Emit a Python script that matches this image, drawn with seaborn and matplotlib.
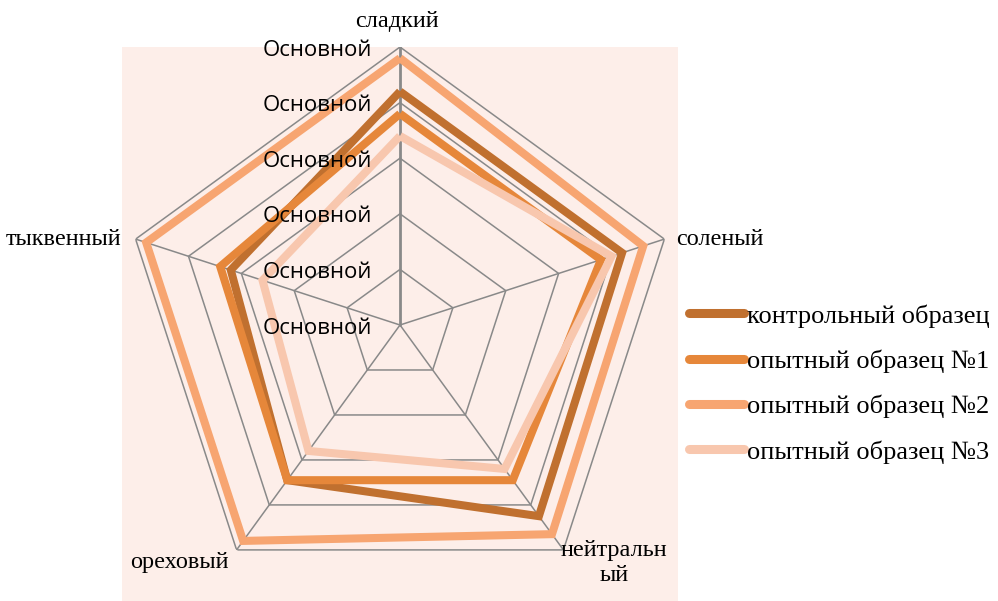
import numpy as np
import pandas as pd
import matplotlib
matplotlib.use('Agg')
import matplotlib.pyplot as plt
import seaborn as sns

# Данные диаграммы
categories = ['сладкий', 'соленый', 'нейтральн\nый', 'ореховый', 'тыквенный']
series_names = ['контрольный образец', 'опытный образец №1',
                'опытный образец №2', 'опытный образец №3']
control = [4.2, 4.2, 4.25, 3.45, 3.2]
sample1 = [3.8, 3.8, 3.45, 3.45, 3.4]
sample2 = [4.8, 4.6, 4.65, 4.8, 4.8]
sample3 = [3.4, 4.0, 3.2, 2.8, 2.6]
ring_levels = [0, 1, 2, 3, 4, 5]
ring_labels = ['Основной'] * 6
colors = ['#C0702F', '#E6873A', '#F7A571', '#F8C7AE']

sns.set_theme(style='white')
plt.rcParams['font.family'] = ['Liberation Serif', 'DejaVu Serif']
plt.rcParams['text.color'] = 'black'

n = len(categories)
angles = np.linspace(0, 2 * np.pi, n, endpoint=False)
closed = np.append(angles, angles[0] + 2 * np.pi)

# Таблица для seaborn
rows = []
for name, vals in zip(series_names, [control, sample1, sample2, sample3]):
    for i, t in enumerate(closed):
        rows.append({'theta': t, 'r': vals[i % n], 'series': name, 'order': i})
df = pd.DataFrame(rows)

fig = plt.figure(figsize=(9.98, 6.01), dpi=100)
W, H = 998, 601
cx, cy, R = 400, 325, 278

# фон области построения
fig.patches.append(plt.Rectangle(((cx - R) / W, 0), 2 * R / W, (H - (cy - R)) / H,
                                 transform=fig.transFigure, facecolor='#FDEEE9',
                                 edgecolor='none', zorder=-5))

ax = fig.add_axes([(cx - R) / W, (H - cy - R) / H, 2 * R / W, 2 * R / H],
                  projection='polar')
ax.set_facecolor('none')
ax.set_theta_offset(np.pi / 2)
ax.set_theta_direction(-1)
ax.set_ylim(0, 5)
ax.grid(False)
ax.spines['polar'].set_visible(False)
ax.set_xticks([])
ax.set_yticks([])

# многоугольная сетка
for lvl in ring_levels[1:]:
    ax.plot(closed, [lvl] * len(closed), color='#898989', lw=1.1, zorder=1)
for i, t in enumerate(angles):
    ax.plot([t, t], [0, 5], color='#898989', lw=2.0 if i == 0 else 1.1, zorder=1)

sns.lineplot(data=df, x='theta', y='r', hue='series', palette=colors,
             sort=False, estimator=None, units='series', ax=ax, lw=5.8,
             legend=False, zorder=3)
for ln in ax.lines[-4:]:
    ln.set_solid_joinstyle('miter')
    ln.set_solid_capstyle('butt')
    ln.set_clip_on(False)

# подписи уровней
for lvl, lab in zip(ring_levels, ring_labels):
    ax.annotate(lab, xy=(0, lvl), xytext=(-28, -3), textcoords='offset pixels',
                ha='right', va='center', fontsize=16, family=['Open Sans', 'DejaVu Sans'],
                color='black', zorder=5, annotation_clip=False)

# подписи категорий
offsets = [(-3, 25, 'center'), (12, 0, 'left'), (51, -13, 'center'),
           (-57, -13, 'center'), (-14, 0, 'right')]
for t, lab, (dx, dy, ha) in zip(angles, categories, offsets):
    ax.annotate(lab, xy=(t, 5), xytext=(dx, dy), textcoords='offset pixels',
                ha=ha, va='center', fontsize=17.5, color='black',
                linespacing=1.3, annotation_clip=False)

# легенда
handles = [plt.Line2D([], [], color=c, lw=6.5, solid_capstyle='round') for c in colors]
leg = fig.legend(handles, series_names, loc='upper left',
                 bbox_to_anchor=(689 / W, 1 - 304 / H), frameon=False, fontsize=19,
                 handlelength=2.1, handletextpad=0.1, labelspacing=0.83,
                 borderaxespad=0, borderpad=0)
for txt in leg.get_texts():
    txt.set_color('black')

fig.savefig('out.png', dpi=100)
